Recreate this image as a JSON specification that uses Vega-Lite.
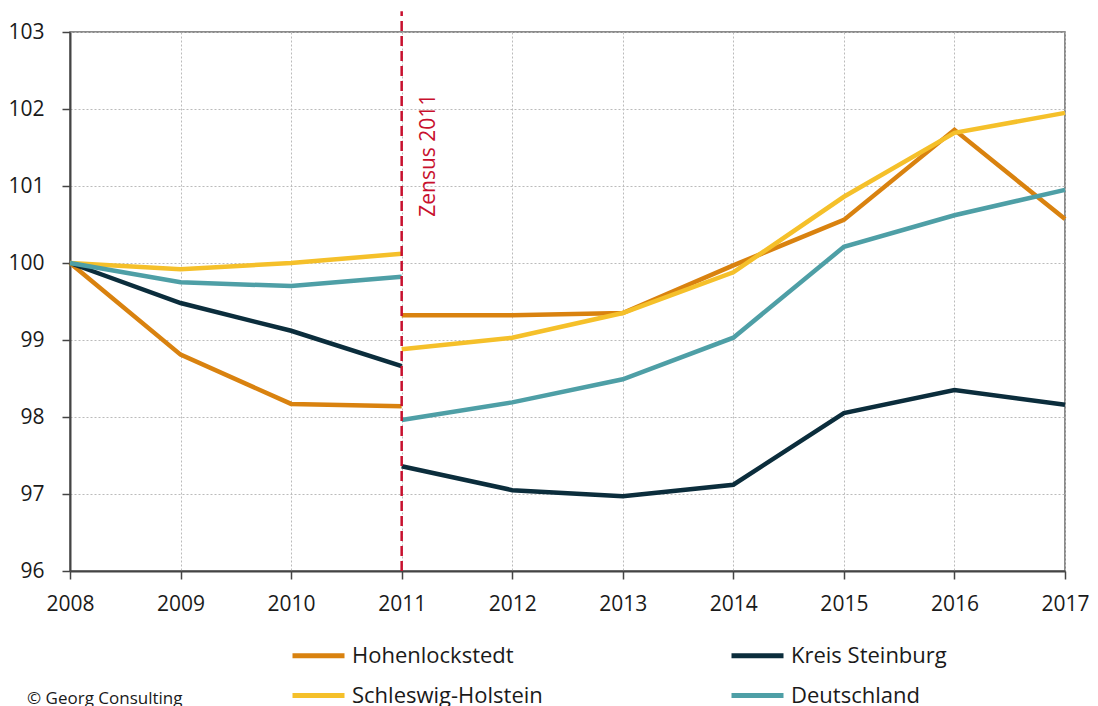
{
  "$schema": "https://vega.github.io/schema/vega-lite/v6.json",
  "width": 995,
  "height": 539,
  "autosize": {"type": "none"},
  "padding": {"left": 70, "top": 32, "right": 33, "bottom": 135},
  "background": "white",
  "config": {
    "font": "Open Sans",
    "view": {"stroke": "#666666", "strokeWidth": 1.5},
    "axis": {
      "labelFont": "Open Sans",
      "labelFontSize": 21,
      "labelColor": "#1a1a1a",
      "domainColor": "#444444",
      "domainWidth": 2,
      "tickColor": "#444444",
      "tickWidth": 1.5,
      "gridColor": "#bbbbbb",
      "gridDash": [2, 2],
      "gridWidth": 1,
      "title": null
    }
  },
  "title": {
    "text": "© Georg Consulting",
    "orient": "bottom",
    "anchor": "start",
    "frame": "group",
    "font": "Open Sans",
    "fontSize": 17,
    "fontWeight": "normal",
    "color": "#1a1a1a",
    "dx": -43,
    "offset": -16
  },
  "data": {
    "values": [
      {"series": "Hohenlockstedt", "seg": "a", "year": 2008, "value": 100.0},
      {"series": "Hohenlockstedt", "seg": "a", "year": 2009, "value": 98.81},
      {"series": "Hohenlockstedt", "seg": "a", "year": 2010, "value": 98.17},
      {"series": "Hohenlockstedt", "seg": "a", "year": 2011, "value": 98.14},
      {"series": "Hohenlockstedt", "seg": "b", "year": 2011, "value": 99.32},
      {"series": "Hohenlockstedt", "seg": "b", "year": 2012, "value": 99.32},
      {"series": "Hohenlockstedt", "seg": "b", "year": 2013, "value": 99.35},
      {"series": "Hohenlockstedt", "seg": "b", "year": 2014, "value": 99.97},
      {"series": "Hohenlockstedt", "seg": "b", "year": 2015, "value": 100.56},
      {"series": "Hohenlockstedt", "seg": "b", "year": 2016, "value": 101.73},
      {"series": "Hohenlockstedt", "seg": "b", "year": 2017, "value": 100.57},
      {"series": "Kreis Steinburg", "seg": "a", "year": 2008, "value": 100.0},
      {"series": "Kreis Steinburg", "seg": "a", "year": 2009, "value": 99.48},
      {"series": "Kreis Steinburg", "seg": "a", "year": 2010, "value": 99.12},
      {"series": "Kreis Steinburg", "seg": "a", "year": 2011, "value": 98.66},
      {"series": "Kreis Steinburg", "seg": "b", "year": 2011, "value": 97.36},
      {"series": "Kreis Steinburg", "seg": "b", "year": 2012, "value": 97.05},
      {"series": "Kreis Steinburg", "seg": "b", "year": 2013, "value": 96.97},
      {"series": "Kreis Steinburg", "seg": "b", "year": 2014, "value": 97.12},
      {"series": "Kreis Steinburg", "seg": "b", "year": 2015, "value": 98.05},
      {"series": "Kreis Steinburg", "seg": "b", "year": 2016, "value": 98.35},
      {"series": "Kreis Steinburg", "seg": "b", "year": 2017, "value": 98.16},
      {"series": "Schleswig-Holstein", "seg": "a", "year": 2008, "value": 100.0},
      {"series": "Schleswig-Holstein", "seg": "a", "year": 2009, "value": 99.92},
      {"series": "Schleswig-Holstein", "seg": "a", "year": 2010, "value": 100.0},
      {"series": "Schleswig-Holstein", "seg": "a", "year": 2011, "value": 100.12},
      {"series": "Schleswig-Holstein", "seg": "b", "year": 2011, "value": 98.88},
      {"series": "Schleswig-Holstein", "seg": "b", "year": 2012, "value": 99.03},
      {"series": "Schleswig-Holstein", "seg": "b", "year": 2013, "value": 99.35},
      {"series": "Schleswig-Holstein", "seg": "b", "year": 2014, "value": 99.88},
      {"series": "Schleswig-Holstein", "seg": "b", "year": 2015, "value": 100.86},
      {"series": "Schleswig-Holstein", "seg": "b", "year": 2016, "value": 101.69},
      {"series": "Schleswig-Holstein", "seg": "b", "year": 2017, "value": 101.95},
      {"series": "Deutschland", "seg": "a", "year": 2008, "value": 100.0},
      {"series": "Deutschland", "seg": "a", "year": 2009, "value": 99.75},
      {"series": "Deutschland", "seg": "a", "year": 2010, "value": 99.70},
      {"series": "Deutschland", "seg": "a", "year": 2011, "value": 99.82},
      {"series": "Deutschland", "seg": "b", "year": 2011, "value": 97.96},
      {"series": "Deutschland", "seg": "b", "year": 2012, "value": 98.19},
      {"series": "Deutschland", "seg": "b", "year": 2013, "value": 98.49},
      {"series": "Deutschland", "seg": "b", "year": 2014, "value": 99.03},
      {"series": "Deutschland", "seg": "b", "year": 2015, "value": 100.21},
      {"series": "Deutschland", "seg": "b", "year": 2016, "value": 100.62},
      {"series": "Deutschland", "seg": "b", "year": 2017, "value": 100.95}
    ]
  },
  "layer": [
    {
      "mark": {"type": "line", "strokeWidth": 4.5, "strokeCap": "butt", "strokeJoin": "miter"},
      "encoding": {
        "x": {
          "field": "year",
          "type": "quantitative",
          "scale": {"domain": [2008, 2017], "nice": false, "zero": false},
          "axis": {"values": [2008, 2009, 2010, 2011, 2012, 2013, 2014, 2015, 2016, 2017], "format": "d", "tickSize": 8, "labelPadding": 14, "labelFlush": false, "grid": true}
        },
        "y": {
          "field": "value",
          "type": "quantitative",
          "scale": {"domain": [96, 103], "nice": false, "zero": false},
          "axis": {"values": [96, 97, 98, 99, 100, 101, 102, 103], "format": "d", "tickSize": 8, "labelPadding": 18, "labelFlush": false, "grid": true}
        },
        "color": {
          "field": "series",
          "type": "nominal",
          "scale": {
            "domain": ["Hohenlockstedt", "Kreis Steinburg", "Schleswig-Holstein", "Deutschland"],
            "range": ["#D9820F", "#0B2D3C", "#F5C02A", "#4E9FA6"]
          },
          "legend": {
            "orient": "none",
            "legendX": 220,
            "legendY": 595,
            "columns": 2,
            "direction": "horizontal",
            "title": null,
            "symbolType": "stroke",
            "symbolSize": 2704,
            "symbolStrokeWidth": 5,
            "labelFont": "Open Sans",
            "labelFontSize": 22,
            "labelColor": "#1a1a1a",
            "labelOffset": 5,
            "labelLimit": 400,
            "columnPadding": 178,
            "rowPadding": -5
          }
        },
        "detail": {"field": "seg"}
      }
    },
    {
      "data": {"values": [{"year": 2011, "lo": 96, "hi": 103.27}]},
      "mark": {"type": "rule", "color": "#C8102E", "strokeWidth": 2.5, "strokeDash": [10, 5], "clip": false},
      "encoding": {
        "x": {"field": "year", "type": "quantitative"},
        "y": {"field": "lo", "type": "quantitative"},
        "y2": {"field": "hi"}
      }
    },
    {
      "data": {"values": [{"year": 2011, "value": 100.6, "label": "Zensus 2011"}]},
      "mark": {"type": "text", "angle": 270, "align": "left", "baseline": "alphabetic", "dy": 33, "font": "Open Sans", "fontSize": 21, "color": "#C8102E"},
      "encoding": {
        "x": {"field": "year", "type": "quantitative"},
        "y": {"field": "value", "type": "quantitative"},
        "text": {"field": "label"}
      }
    }
  ]
}
